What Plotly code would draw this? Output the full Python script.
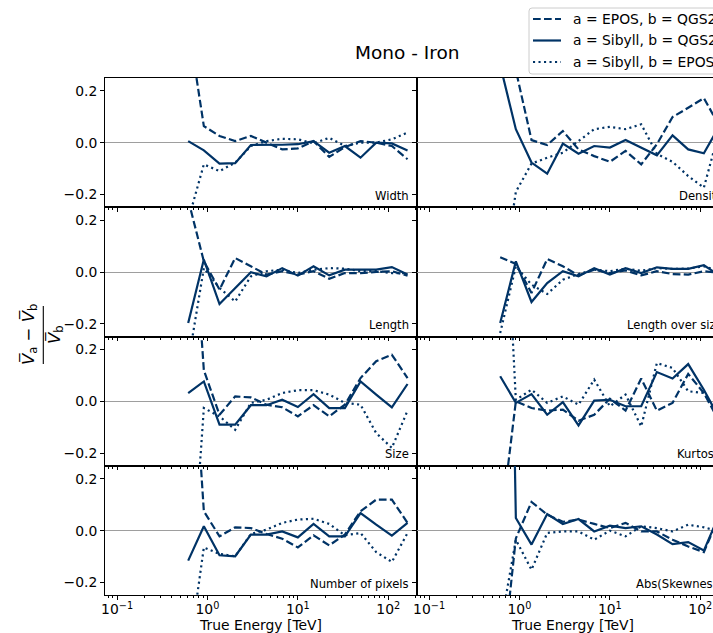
import plotly.graph_objects as go

# Bin-centre energies [TeV]
energy = [0.612, 0.912, 1.359, 2.026, 3.020, 4.501, 6.709, 10.0, 14.91,
          22.22, 33.11, 49.35, 73.56, 109.6, 163.4]

panel_names = ["Width", "Density", "Length", "Length over size",
               "Size", "Kurtosis", "Number of pixels", "Abs(Skewness)"]

series_labels = ["a = EPOS, b = QGS2", "a = Sibyll, b = QGS2", "a = Sibyll, b = EPOS"]

# Relative difference (mean_a - mean_b) / mean_b per energy bin
width_epos_qgs = [0.46, 0.064, 0.026, 0.006, 0.026, 0.0, -0.026, -0.022, 0.006, -0.055, -0.017, 0.006, 0.0, -0.013, -0.064]
width_sib_qgs = [0.006, -0.03, -0.081, -0.079, -0.009, -0.009, -0.008, -0.006, 0.006, -0.039, -0.013, -0.058, 0.0, -0.003, -0.03]
width_sib_epos = [-0.30, -0.084, -0.11, -0.077, -0.013, 0.006, 0.015, 0.013, -0.003, 0.019, -0.013, 0.0, 0.0, 0.013, 0.039]

density_epos_qgs = [0.60, 0.28, 0.01, -0.009, 0.045, -0.026, -0.052, -0.074, -0.032, -0.084, -0.006, 0.099, 0.135, 0.172, 0.064]
density_sib_qgs = [0.30, 0.052, -0.077, -0.12, -0.004, -0.043, -0.013, -0.019, 0.01, -0.019, -0.049, 0.028, -0.026, -0.041, 0.065]
density_sib_epos = [-0.6, -0.19, -0.081, -0.058, -0.039, 0.006, 0.052, 0.061, 0.052, 0.071, -0.043, -0.074, -0.129, -0.174, 0.05]

length_epos_qgs = [0.28, 0.041, -0.068, 0.054, 0.022, -0.01, 0.003, -0.01, 0.003, -0.026, -0.004, -0.004, 0.0, 0.003, -0.014]
length_sib_qgs = [-0.197, 0.048, -0.124, -0.062, -0.001, -0.017, 0.015, -0.014, 0.022, -0.013, 0.009, 0.009, 0.009, 0.019, -0.01]
length_sib_epos = [-0.35, 0.015, -0.062, -0.114, -0.017, 0.003, 0.009, -0.004, 0.009, 0.015, 0.013, 0.003, 0.003, -0.004, -0.004]

los_epos_qgs = [0.057, 0.031, -0.081, 0.05, 0.022, -0.013, 0.009, -0.004, 0.006, -0.013, 0.003, -0.008, -0.01, 0.003, -0.004]
los_sib_qgs = [-0.197, 0.041, -0.116, -0.043, 0.003, -0.017, 0.015, -0.01, 0.015, -0.004, 0.018, 0.012, 0.012, 0.026, -0.014]
los_sib_epos = [-0.236, 0.022, -0.049, -0.085, -0.03, -0.008, 0.009, 0.003, 0.013, 0.005, 0.015, 0.012, 0.013, 0.022, 0.003]

size_epos_qgs = [1.0, 0.12, -0.052, 0.019, 0.015, -0.013, -0.023, -0.058, -0.015, -0.058, -0.013, 0.09, 0.155, 0.18, 0.09]
size_sib_qgs = [0.032, 0.077, -0.09, -0.09, -0.015, -0.015, 0.006, -0.022, 0.028, -0.026, -0.026, 0.077, 0.026, -0.023, 0.067]
size_sib_epos = [-0.9, -0.026, -0.058, -0.11, -0.006, 0.006, 0.032, 0.043, 0.043, 0.026, -0.006, -0.013, -0.123, -0.18, -0.036]

kurt_epos_qgs = [-0.5, 0.0, -0.026, -0.036, -0.032, -0.075, -0.052, 0.01, -0.036, 0.088, -0.036, -0.006, 0.106, 0.032, -0.08]
kurt_sib_qgs = [0.097, -0.006, 0.028, -0.052, -0.003, -0.093, 0.003, 0.006, -0.019, -0.019, 0.113, 0.088, 0.144, 0.045, -0.067]
kurt_sib_epos = [1.2, 0.006, 0.045, -0.006, 0.019, -0.013, 0.084, -0.019, 0.026, -0.097, 0.148, 0.129, 0.039, 0.032, -0.06]

npix_epos_qgs = [1.0, 0.075, -0.022, 0.013, 0.01, -0.013, -0.031, -0.065, -0.018, -0.057, -0.015, 0.075, 0.12, 0.12, 0.03]
npix_sib_qgs = [-0.116, 0.017, -0.095, -0.099, -0.015, -0.015, -0.003, -0.026, 0.026, -0.022, -0.022, 0.068, 0.023, -0.019, 0.03]
npix_sib_epos = [-0.5, -0.065, -0.09, -0.099, -0.013, 0.004, 0.03, 0.043, 0.046, 0.026, -0.018, -0.009, -0.083, -0.121, -0.009]

skew_epos_qgs = [-0.6, -0.03, 0.111, 0.062, 0.034, 0.043, 0.026, 0.01, 0.03, -0.003, -0.003, -0.035, -0.061, -0.083, 0.06]
skew_sib_qgs = [3.4, 0.049, -0.054, 0.064, 0.026, 0.045, -0.003, 0.019, 0.01, 0.017, -0.015, -0.052, -0.044, -0.077, 0.064]
skew_sib_epos = [-0.38, -0.035, -0.151, -0.009, -0.003, -0.003, -0.035, 0.0, -0.022, 0.017, 0.01, -0.003, 0.023, 0.013, -0.003]

panel_series = [
    (width_epos_qgs, width_sib_qgs, width_sib_epos),
    (density_epos_qgs, density_sib_qgs, density_sib_epos),
    (length_epos_qgs, length_sib_qgs, length_sib_epos),
    (los_epos_qgs, los_sib_qgs, los_sib_epos),
    (size_epos_qgs, size_sib_qgs, size_sib_epos),
    (kurt_epos_qgs, kurt_sib_qgs, kurt_sib_epos),
    (npix_epos_qgs, npix_sib_qgs, npix_sib_epos),
    (skew_epos_qgs, skew_sib_qgs, skew_sib_epos),
]

x_tickvals = [0.1, 1, 10, 100]
x_ticktext = ["10<sup>\u22121</sup>", "10<sup>0</sup>", "10<sup>1</sup>", "10<sup>2</sup>"]
y_tickvals = [-0.2, 0.0, 0.2]
y_ticktext = ["\u22120.2", "0.0", "0.2"]

# ---------------------------------------------------------------- styling
W, H = 713, 633
FONT = "DejaVu Sans"
NAVY = "#003366"
LW = 2.2
DASHES = ["7.7px,3.3px", "solid", "2.1px,3.4px"]

LEFT0, COLW = 104.5, 312.0      # px: left edge of first column, column width
TOP0, ROWH = 78.0, 129.33       # px: top of first row, row height
DEC = 90.4                      # px per decade on the energy axis
XLOG_MIN = -1.139

minor_vals = [m * 10 ** e for e in range(-2, 3) for m in range(2, 10)]


def px(x):
    return x / W


def py(y):
    return 1 - y / H


fig = go.Figure()
layout = dict(
    width=W, height=H,
    margin=dict(l=0, r=0, t=0, b=0, autoexpand=False),
    paper_bgcolor="white", plot_bgcolor="white",
    showlegend=False,
    font=dict(family=FONT, color="black"),
)
annotations = []
shapes = []

for k, (name, series) in enumerate(zip(panel_names, panel_series)):
    r, c = divmod(k, 2)
    x0 = LEFT0 + c * COLW
    x1 = min(x0 + COLW, W)
    y0 = TOP0 + r * ROWH
    y1 = y0 + ROWH
    sfx = "" if k == 0 else str(k + 1)

    layout["xaxis" + sfx] = dict(
        type="log", domain=[px(x0), px(x1)],
        range=[XLOG_MIN, XLOG_MIN + (x1 - x0) / DEC],
        anchor="y" + sfx,
        showline=True, linecolor="black", linewidth=0.8, mirror=True,
        ticks="outside", ticklen=3.5, tickwidth=0.8, tickcolor="black",
        tickvals=x_tickvals, ticktext=x_ticktext,
        showticklabels=(r == 3), ticklabelstandoff=-2,
        tickfont=dict(family=FONT, size=13.9, color="black"),
        minor=dict(ticks="outside", ticklen=2, tickwidth=0.6, tickcolor="black",
                   tickvals=minor_vals, showgrid=False),
        showgrid=False, zeroline=False,
    )
    layout["yaxis" + sfx] = dict(
        domain=[py(y1), py(y0)], range=[-0.25, 0.25],
        anchor="x" + sfx,
        showline=True, linecolor="black", linewidth=0.8, mirror=(c == 0),
        ticks="outside", ticklen=3.5, tickwidth=0.8, tickcolor="black",
        tickvals=y_tickvals, ticktext=y_ticktext,
        showticklabels=(c == 0),
        tickfont=dict(family=FONT, size=13.9, color="black"),
        showgrid=False,
        zeroline=True, zerolinecolor="#9e9e9e", zerolinewidth=1,
    )

    for vals, dash, lab in zip(series, DASHES, series_labels):
        fig.add_trace(go.Scatter(
            x=energy, y=vals, mode="lines", name=lab,
            line=dict(color=NAVY, width=LW, dash=dash),
            xaxis="x" + sfx, yaxis="y" + sfx,
            hoverinfo="skip", showlegend=False,
        ))

    annotations.append(dict(
        text=name, xref="paper", yref="paper",
        x=px(x0 + COLW - 6 + 2 * c), y=py(y1 - 11.5),
        xanchor="right", yanchor="middle", showarrow=False,
        font=dict(family=FONT, size=11.6, color="black"),
    ))

# x-axis titles
for c in range(2):
    annotations.append(dict(
        text="True Energy [TeV]", xref="paper", yref="paper",
        x=px(LEFT0 + c * COLW + COLW / 2), y=py(625),
        xanchor="center", yanchor="middle", showarrow=False,
        font=dict(family=FONT, size=13.9, color="black"),
    ))

# figure title
annotations.append(dict(
    text="Mono - Iron", xref="paper", yref="paper",
    x=px(407), y=py(52), xanchor="center", yanchor="middle",
    showarrow=False, font=dict(family=FONT, size=18.5, color="black"),
))

# y-axis label: (mean V_a - mean V_b) / mean V_b, written sideways
annotations.append(dict(
    text="<i>V\u0305</i><sub>a</sub> \u2212 <i>V\u0305</i><sub>b</sub>",
    xref="paper", yref="paper", x=px(29), y=py(335),
    xanchor="center", yanchor="middle", textangle=-90, showarrow=False,
    font=dict(family=FONT, size=16.5, color="black"),
))
annotations.append(dict(
    text="<i>V\u0305</i><sub>b</sub>",
    xref="paper", yref="paper", x=px(55), y=py(335),
    xanchor="center", yanchor="middle", textangle=-90, showarrow=False,
    font=dict(family=FONT, size=16.5, color="black"),
))
shapes.append(dict(type="line", xref="paper", yref="paper",
                   x0=px(43.3), x1=px(43.3), y0=py(306), y1=py(364),
                   line=dict(color="black", width=1.1)))

# legend box with rounded corners
bx0, bx1, by0, by1, rr = 529, 800, 8, 74, 3


def P(x, y):
    return f"{px(x):.5f},{py(y):.5f}"


legend_path = (
    f"M{P(bx0 + rr, by0)} L{P(bx1 - rr, by0)} Q{P(bx1, by0)} {P(bx1, by0 + rr)} "
    f"L{P(bx1, by1 - rr)} Q{P(bx1, by1)} {P(bx1 - rr, by1)} "
    f"L{P(bx0 + rr, by1)} Q{P(bx0, by1)} {P(bx0, by1 - rr)} "
    f"L{P(bx0, by0 + rr)} Q{P(bx0, by0)} {P(bx0 + rr, by0)} Z"
)
shapes.append(dict(type="path", xref="paper", yref="paper", path=legend_path,
                   fillcolor="rgba(255,255,255,0.8)",
                   line=dict(color="#cccccc", width=1)))
for i, (lab, dash) in enumerate(zip(series_labels, DASHES)):
    yc = 19 + i * 21.5
    shapes.append(dict(type="line", xref="paper", yref="paper",
                       x0=px(533), x1=px(561), y0=py(yc), y1=py(yc),
                       line=dict(color=NAVY, width=LW, dash=dash)))
    annotations.append(dict(
        text=lab, xref="paper", yref="paper", x=px(571), y=py(yc),
        xanchor="left", yanchor="middle", showarrow=False,
        font=dict(family=FONT, size=13.9, color="black"),
    ))

layout["annotations"] = annotations
layout["shapes"] = shapes
fig.update_layout(**layout)

fig.write_html("out.html")
